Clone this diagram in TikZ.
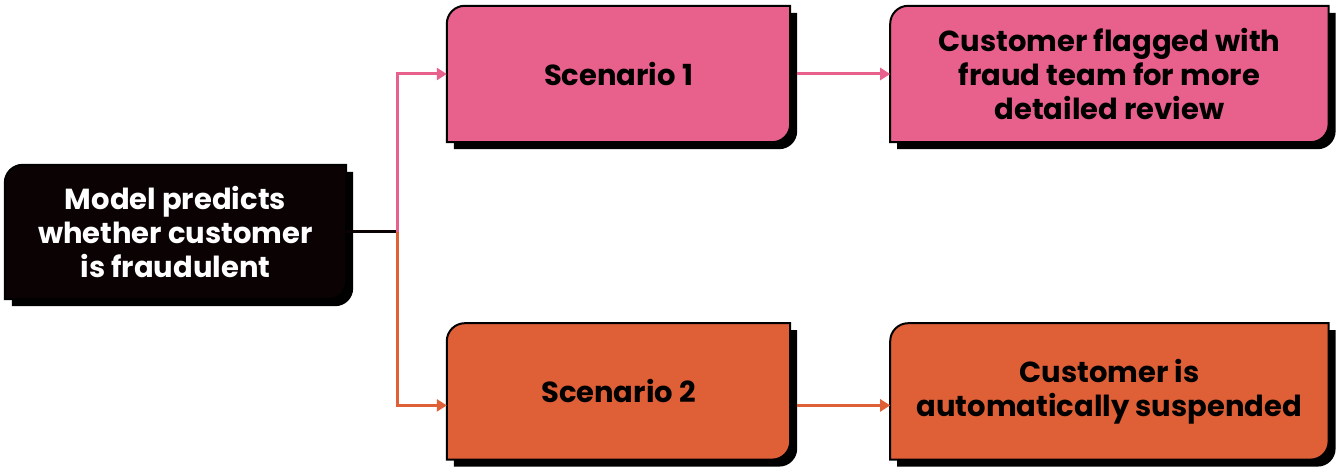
\documentclass[tikz,border=0pt]{standalone}
\usepackage{fontspec}
\setmainfont{Poppins}
\usetikzlibrary{positioning,arrows.meta,backgrounds,calc}
\definecolor{pinkfill}{HTML}{E8608C}
\definecolor{orangefill}{HTML}{DF5F37}
\definecolor{inkblack}{HTML}{0A0203}
\tikzset{
  card/.style={align=center,inner sep=0pt,minimum height=136pt,
               font=\fontsize{29}{34}\selectfont\bfseries},
  fl/.style={-{Triangle[length=10pt,width=12pt]},line width=3pt},
}
% card outline: top-left and bottom-right corners rounded
\newcommand\cardpath[3]{([shift={(#2,#3)}]#1.south west)
  -- ([shift={(#2,#3-18pt)}]#1.north west) arc[start angle=180,end angle=90,radius=18pt]
  -- ([shift={(#2,#3)}]#1.north east)
  -- ([shift={(#2,#3+18pt)}]#1.south east) arc[start angle=0,end angle=-90,radius=18pt]
  -- cycle}

\begin{document}
\begin{tikzpicture}[x=1pt,y=1pt]
\useasboundingbox (0,0) rectangle (1342,472);
% source
\node[card,text=white,minimum width=341pt,minimum height=134pt] (model) at (175.5,240)
  {Model predicts\\whether customer\\is fraudulent};
% scenario 1
\node[card,minimum width=343pt] (scen1) at (618.5,398) {Scenario 1};
\node[card,minimum width=438pt,right=100pt of scen1] (flag) {Customer flagged with\\fraud team for more\\detailed review};
% scenario 2
\node[card,minimum width=343pt,below=181pt of scen1] (scen2) {Scenario 2};
\node[card,minimum width=438pt,right=100pt of scen2] (susp) {Customer is\\automatically suspended};
\begin{scope}[on background layer]
\foreach \n/\c in {model/inkblack,scen1/pinkfill,flag/pinkfill,scen2/orangefill,susp/orangefill}{
  \fill[black] \cardpath{\n}{7pt}{-7pt};
  \draw[fill=\c,line width=2pt] \cardpath{\n}{0pt}{0pt};
}
\end{scope}
% flows
\coordinate[right=51pt of model.east] (split);
\draw[line width=3pt,inkblack] (model.east) -- (split);
\draw[fl,pinkfill] (split) |- (scen1.west);
\draw[fl,orangefill] (split) |- ([yshift=-14pt]scen2.west);
\draw[fl,pinkfill,shorten <=7pt] (scen1.east) -- (flag.west);
\draw[fl,orangefill,shorten <=7pt] ([yshift=-14pt]scen2.east) -- ([yshift=-14pt]susp.west);
\end{tikzpicture}
\end{document}
